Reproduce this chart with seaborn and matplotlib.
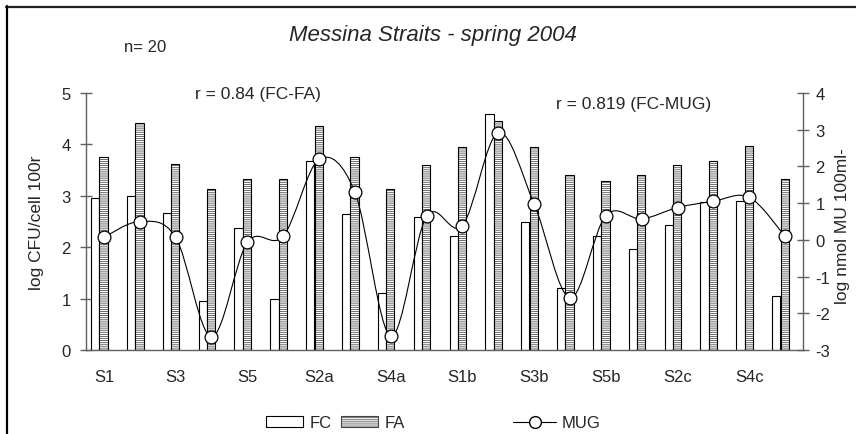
"""Messina Straits spring 2004: FC / FA bars with MUG activity on a second axis."""

import matplotlib

matplotlib.use("Agg")
import matplotlib.pyplot as plt
import numpy as np
import seaborn as sns
from matplotlib.lines import Line2D
from matplotlib.patches import Patch, PathPatch
from matplotlib.path import Path

STATIONS = [
    "S1", "S2", "S3", "S4", "S5",
    "S1a", "S2a", "S3a", "S4a", "S5a",
    "S1b", "S2b", "S3b", "S4b", "S5b",
    "S1c", "S2c", "S3c", "S4c", "S5c",
]
FC = [2.95, 3.0, 2.67, 0.95, 2.38, 1.0, 3.68, 2.65, 1.1, 2.58,
      2.21, 4.59, 2.5, 1.2, 2.21, 1.96, 2.44, 2.87, 2.89, 1.05]
FA = [3.76, 4.42, 3.62, 3.14, 3.33, 3.33, 4.36, 3.76, 3.14, 3.6,
      3.95, 4.46, 3.95, 3.41, 3.28, 3.41, 3.59, 3.68, 3.97, 3.33]
MUG = [0.07, 0.5, 0.07, -2.64, -0.07, 0.1, 2.19, 1.3, -2.62, 0.64,
       0.39, 2.92, 0.98, -1.58, 0.66, 0.57, 0.88, 1.05, 1.16, 0.1]

LEFT_TICKS = [0, 1, 2, 3, 4, 5]
RIGHT_TICKS = [-3, -2, -1, 0, 1, 2, 3, 4]

W, H = 856, 435
AXIS_GREY = "#606060"
HATCH_GREY = "#444444"


def fx(px):
    return px / W


def fy(py):
    return 1 - py / H


def smooth_path(xs, ys):
    """Cubic Bezier path through the points (Catmull-Rom style, like a spreadsheet smoothed line)."""
    pts = np.column_stack([xs, ys]).astype(float)
    n = len(pts)
    verts = [pts[0]]
    codes = [Path.MOVETO]
    for i in range(n - 1):
        p0 = pts[i - 1] if i > 0 else pts[i]
        p1 = pts[i]
        p2 = pts[i + 1]
        p3 = pts[i + 2] if i + 2 < n else pts[i + 1]
        c1 = p1 + (p2 - p0) / 6.0
        c2 = p2 - (p3 - p1) / 6.0
        verts += [c1, c2, p2]
        codes += [Path.CURVE4] * 3
    return Path(verts, codes)


sns.set_style("white")
plt.rcParams["font.family"] = ["Liberation Sans", "DejaVu Sans"]
plt.rcParams["axes.unicode_minus"] = False
plt.rcParams["hatch.linewidth"] = 0.55

fig = plt.figure(figsize=(W / 100, H / 100), dpi=100)
ax = fig.add_axes([fx(86), fy(351), fx(803) - fx(86), fy(94) - fy(351)])

idx = np.arange(len(STATIONS))
bar_w = 0.23

# FC bars: plain white, just left of the category centre
sns.barplot(x=idx - 0.245, y=FC, native_scale=True, width=bar_w, color="white",
            edgecolor="black", linewidth=0.8, errorbar=None, ax=ax)
# FA bars: dense horizontal hatch, centred on the category
sns.barplot(x=idx - 0.01, y=FA, native_scale=True, width=bar_w, color="white",
            edgecolor=HATCH_GREY, linewidth=0, hatch="--------", errorbar=None, ax=ax)
sns.barplot(x=idx - 0.01, y=FA, native_scale=True, width=bar_w, fill=False,
            color="black", linewidth=0.8, errorbar=None, ax=ax)

ax.set_xlim(-0.5, len(STATIONS) - 0.5)
ax.set_ylim(0, 5)
ax.set_yticks(LEFT_TICKS)
ax.set_xticks(idx[::2])
ax.set_xticklabels(STATIONS[::2])
ax.set_xticks(np.arange(len(STATIONS) + 1) - 0.5, minor=True)
ax.tick_params(axis="x", which="major", length=0, pad=14, labelsize=12)
ax.tick_params(axis="x", which="minor", direction="inout", length=8,
               width=1.0, color=AXIS_GREY)
ax.tick_params(axis="y", direction="inout", length=8, width=1.0,
               color=AXIS_GREY, pad=7, labelsize=12)
ax.set_xlabel("")
ax.set_ylabel("log CFU/cell 100r", fontsize=12.5, va="center")
ax.yaxis.set_label_coords(-0.0697, 0.5)
for side in ["top", "right"]:
    ax.spines[side].set_visible(False)
for side in ["left", "bottom"]:
    ax.spines[side].set_color(AXIS_GREY)
    ax.spines[side].set_linewidth(1.0)

# MUG on the right axis
ax2 = ax.twinx()
ax2.add_patch(PathPatch(smooth_path(idx, MUG), fill=False, edgecolor="black",
                        linewidth=0.8, zorder=2))
sns.scatterplot(x=idx, y=MUG, marker="o", s=85, color="white", edgecolor="black",
                linewidth=0.9, zorder=3, ax=ax2)
ax2.set_ylim(-3, 4)
ax2.set_yticks(RIGHT_TICKS)
ax2.tick_params(axis="y", direction="inout", length=8, width=1.0,
                color=AXIS_GREY, pad=5, labelsize=12)
ax2.set_ylabel("log nmol MU 100ml-", fontsize=12.5, rotation=90, va="center")
ax2.yaxis.set_label_coords(1.055, 0.486)
for side in ["top", "left", "bottom"]:
    ax2.spines[side].set_visible(False)
ax2.spines["right"].set_color(AXIS_GREY)
ax2.spines["right"].set_linewidth(1.0)

# annotations
fig.text(fx(433), fy(35), "Messina Straits - spring 2004", ha="center", va="center",
         style="italic", fontsize=16)
fig.text(fx(124), fy(47), "n= 20", ha="left", va="center", fontsize=12)
fig.text(fx(195), fy(95), "r = 0.84 (FC-FA)", ha="left", va="center", fontsize=12.5)
fig.text(fx(556), fy(104), "r = 0.819 (FC-MUG)", ha="left", va="center", fontsize=12.5)

# legends
fc_handle = Patch(facecolor="white", edgecolor="black", linewidth=0.8)
fa_handle = Patch(facecolor="white", edgecolor=HATCH_GREY, hatch="--------", linewidth=0.8)
fig.legend(handles=[fc_handle, fa_handle], labels=["FC", "FA"], ncol=2,
           loc="center left", bbox_to_anchor=(fx(266), fy(424)), frameon=False,
           fontsize=12, handlelength=2.2, handleheight=0.6, handletextpad=0.4,
           columnspacing=0.6, borderpad=0, borderaxespad=0)
mug_handle = Line2D([], [], color="black", linewidth=0.8, marker="o", markersize=8.5,
                    markerfacecolor="white", markeredgecolor="black")
fig.legend(handles=[mug_handle], labels=["MUG"], loc="center left",
           bbox_to_anchor=(fx(513), fy(424)), frameon=False, fontsize=12,
           handlelength=2.6, handletextpad=0.3, borderpad=0, borderaxespad=0)

# chart-area border (top and left only, as in the original)
fig.add_artist(Line2D([fx(6), 1.0], [fy(7.5), fy(7.5)], transform=fig.transFigure,
                      color="#222222", linewidth=1.6))
fig.add_artist(Line2D([fx(6.5), fx(6.5)], [0.0, fy(7)], transform=fig.transFigure,
                      color="black", linewidth=1.6))

fig.savefig("out.png", dpi=100)
